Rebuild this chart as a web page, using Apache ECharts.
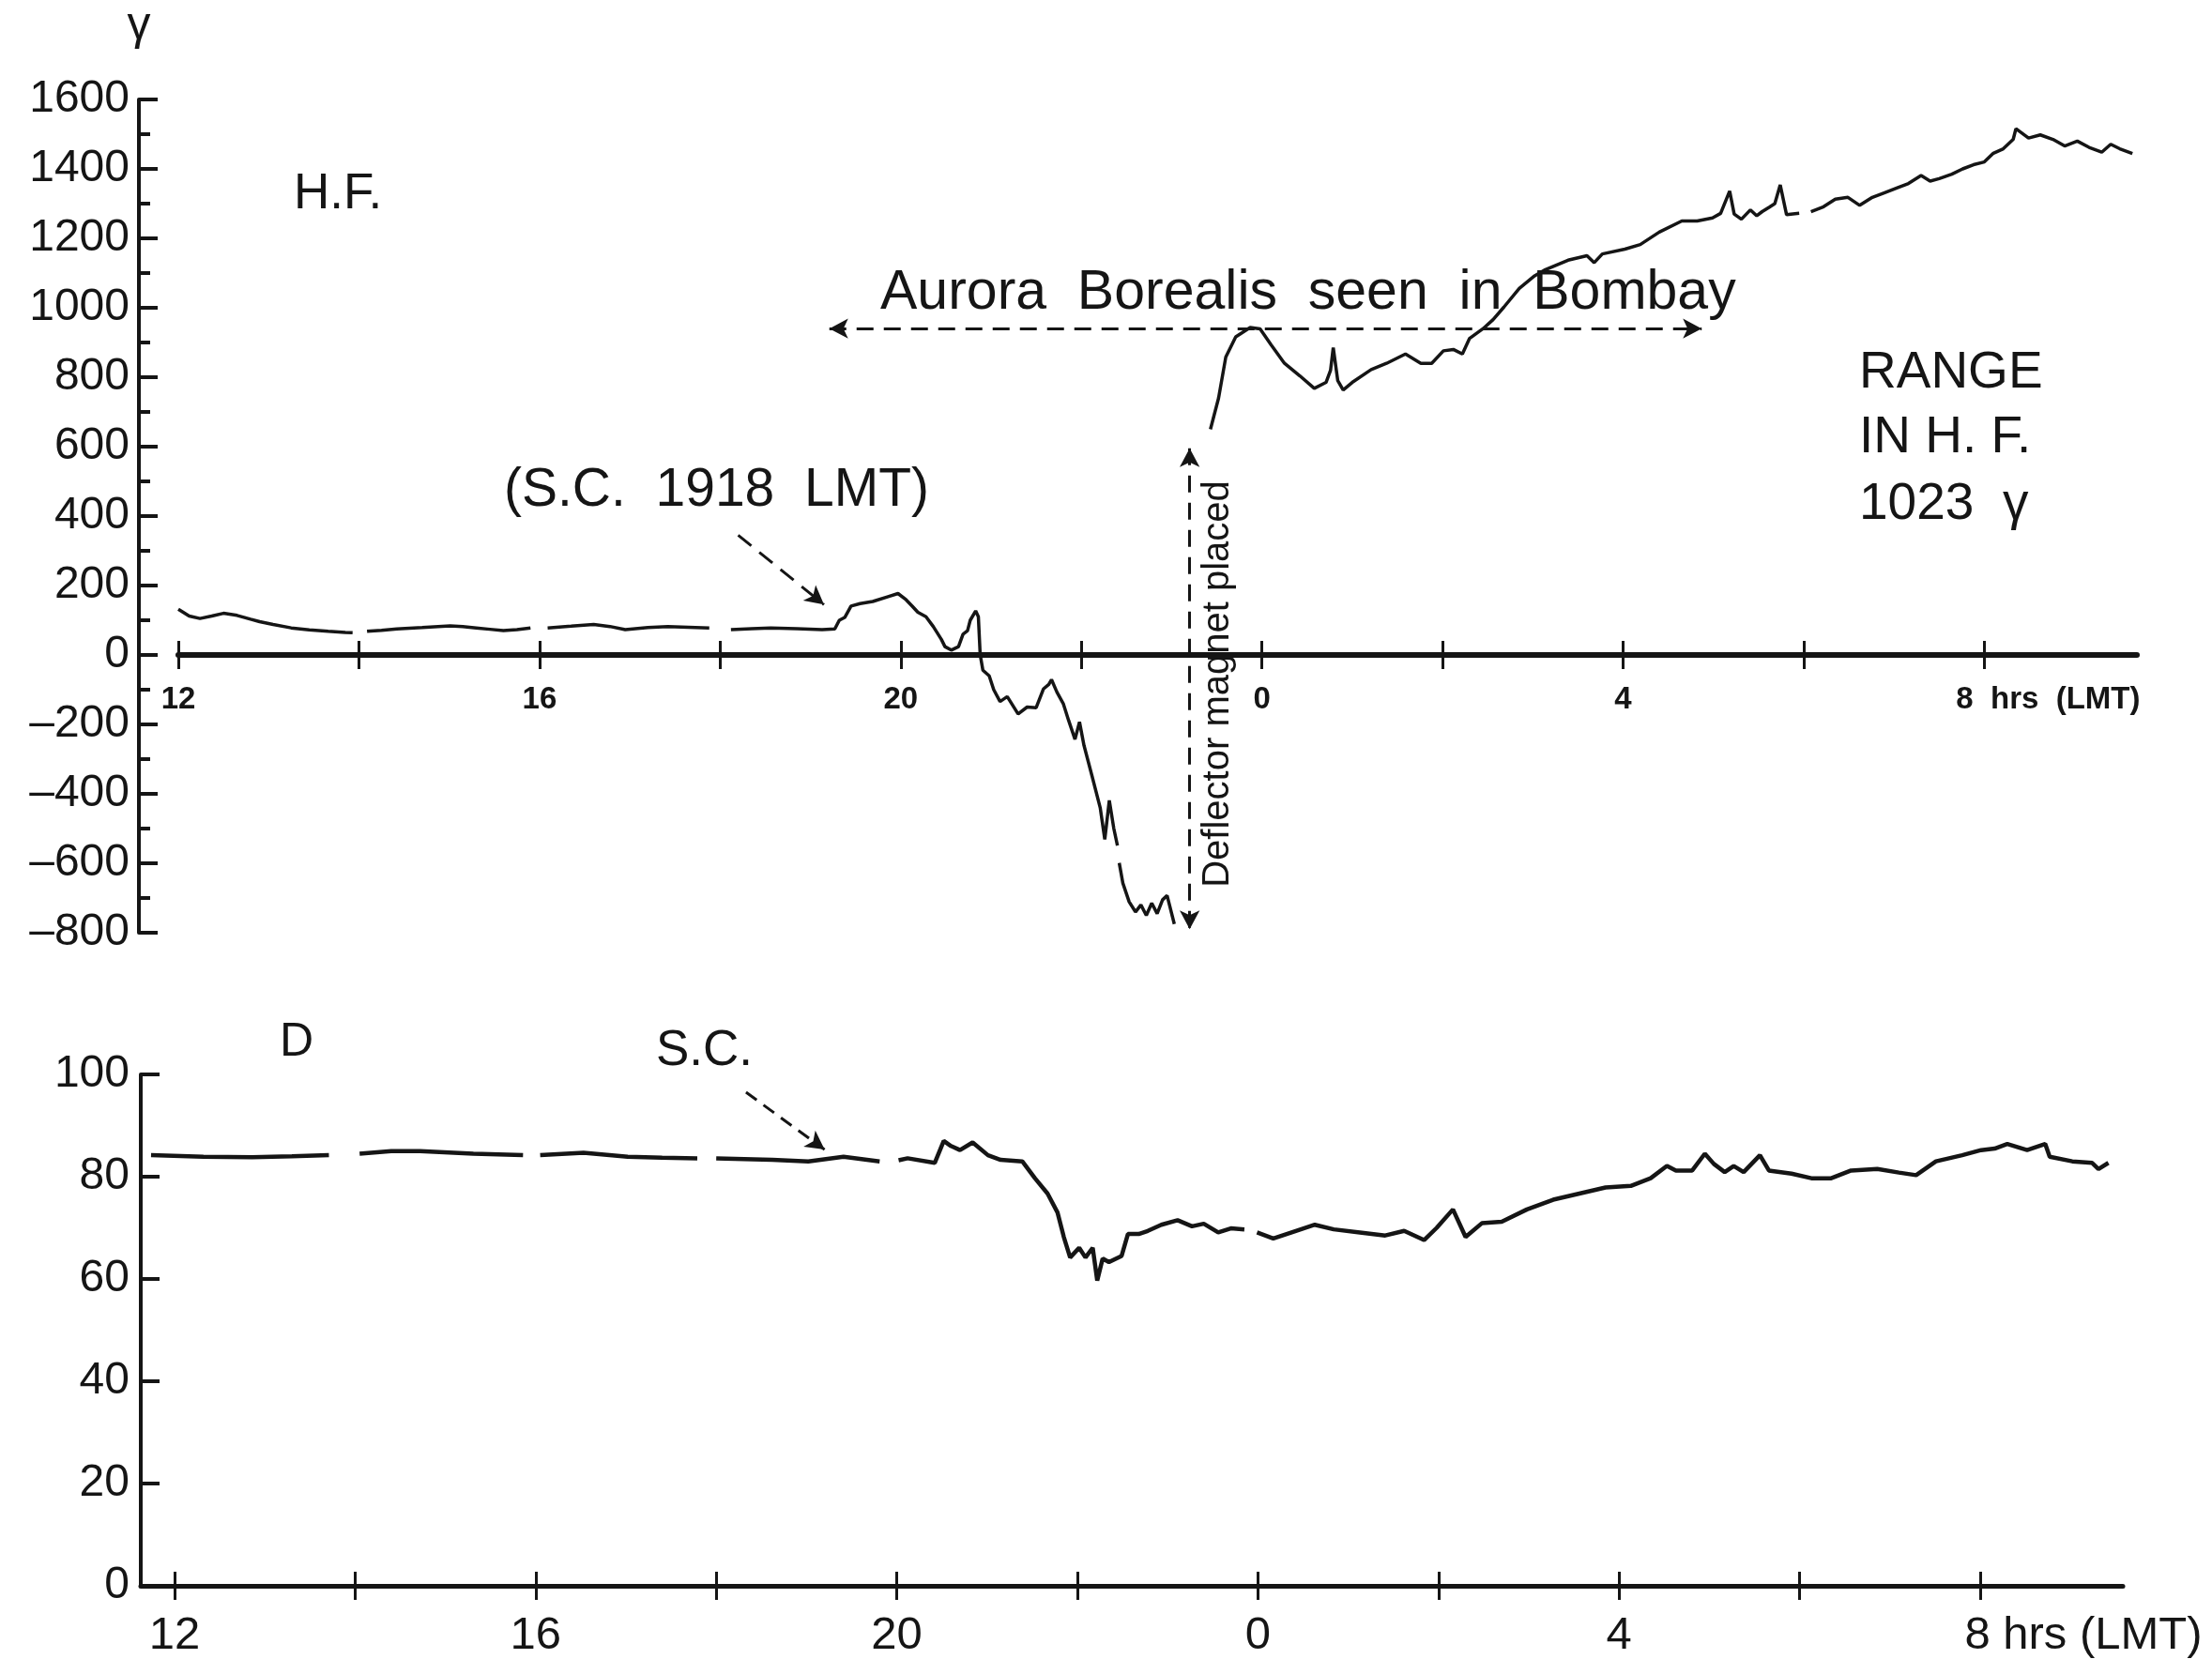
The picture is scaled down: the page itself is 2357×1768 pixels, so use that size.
<!DOCTYPE html>
<html><head><meta charset="utf-8">
<script src="https://cdn.jsdelivr.net/npm/echarts@6/dist/echarts.min.js"></script>
<style>html,body{margin:0;padding:0;background:#fff}#c{width:2357px;height:1768px}</style>
</head><body><div id="c"></div>
<script>
// Horizontal force (H.F.), gamma; hours counted continuously (24 = 0 h, 32 = 8 h LMT)
const hfHours = [12.00,12.12,12.24,12.37,12.50,12.65,12.80,12.90,13.05,13.25,13.45,13.66,13.85,13.93,13.99,
 14.09,14.25,14.42,14.70,15.01,15.15,15.30,15.45,15.60,15.75,15.90,15.99,
 16.09,16.35,16.60,16.78,16.95,17.20,17.42,17.65,17.88,17.99,
 18.12,18.35,18.56,18.85,19.13,19.27,19.32,19.38,19.45,19.55,19.69,19.86,19.97,20.06,20.13,20.19,20.28,20.36,20.45,20.49,20.56,20.64,20.69,20.74,20.77,20.83,20.86,20.88,20.91,20.98,
 21.03,21.10,21.18,21.30,21.40,21.50,21.58,21.64,21.67,21.73,21.80,21.86,21.93,21.98,
 22.03,22.12,22.21,22.26,22.31,22.36,22.40,22.41,22.42,22.46,22.53,22.60,22.66,22.72,22.78,22.84,22.90,22.95,23.03,23.20,
 23.43,23.52,23.60,23.71,23.87,23.98,24.10,24.25,24.42,24.58,24.71,24.76,24.79,24.84,24.90,25.00,25.21,25.38,25.59,25.76,25.88,
 26.01,26.12,26.22,26.30,26.45,26.56,26.68,26.85,27.02,27.14,27.39,27.60,27.68,27.77,
 28.02,28.19,28.40,28.65,28.82,28.99,29.08,29.18,29.23,29.31,29.41,29.48,29.54,29.62,29.68,29.74,29.81,29.95,30.01,
 30.08,30.22,30.35,30.49,30.62,30.76,30.89,31.03,31.16,31.30,31.40,31.50,31.64,31.76,31.88,
 32.00,32.10,32.21,32.32,32.35,32.49,32.62,32.76,32.89,33.03,33.16,33.30,33.40,33.50,33.64];
const hfValues = [132,112,105,112,120,114,103,96,88,78,72,68,65,64,null,
 68,71,75,79,84,82,78,74,70,73,78,null,
 78,83,88,82,73,79,82,80,78,null,
 73,76,78,76,73,75,100,108,141,148,154,168,177,159,140,123,110,82,45,24,14,24,60,70,100,127,110,1,-44,-60,
 -100,-134,-120,-170,-150,-152,-98,-85,-71,-107,-140,-189,-243,-193,
 -261,-350,-441,-531,-419,-500,-549,null,-599,-657,-711,-740,-720,-750,-715,-745,-705,-693,-775,null,
 650,740,858,916,943,939,894,840,804,768,785,820,885,790,763,785,822,840,867,840,840,
 876,880,867,912,940,966,1002,1056,1092,1110,1137,1150,1130,1155,
 1169,1182,1218,1250,1250,1259,1272,1336,1270,1255,1282,1265,1277,1290,1300,1354,1268,1272,null,
 1277,1291,1313,1318,1295,1318,1331,1345,1358,1381,1365,1372,1385,1400,1412,
 1420,1445,1458,1485,1516,1489,1498,1485,1466,1480,1462,1448,1471,1458,1444];

// Declination (D)
const dHours = [11.74,12.32,12.86,13.30,13.71,13.80,14.05,14.40,14.72,15.31,15.86,15.95,16.05,16.53,17.02,17.40,17.79,17.90,
 18.00,18.62,19.02,19.41,19.81,19.90,20.02,20.12,20.42,20.52,20.60,20.70,20.84,21.01,21.15,21.39,21.53,21.67,21.78,21.85,21.92,
 22.02,22.09,22.17,22.22,22.28,22.35,22.49,22.56,22.68,22.78,22.93,23.11,23.27,23.40,23.56,23.70,23.85,23.92,
 23.99,24.17,24.42,24.63,24.84,25.13,25.41,25.62,25.84,25.98,26.16,26.30,26.48,26.70,26.98,27.27,27.56,27.85,
 28.13,28.35,28.53,28.63,28.81,28.95,29.05,29.17,29.27,29.38,29.56,29.66,29.91,30.13,30.35,30.57,30.86,31.10,31.29,31.51,31.80,
 32.01,32.16,32.30,32.52,32.72,32.77,33.02,33.24,33.31,33.42];
const dValues = [84.2,83.9,83.8,84.0,84.2,null,84.5,85.0,85.0,84.5,84.2,null,84.2,84.7,83.9,83.7,83.6,null,
 83.6,83.3,83.0,83.9,83.0,null,83.2,83.6,82.7,87.0,86.0,85.2,86.7,84.2,83.3,83.0,79.7,76.7,73.0,68.2,64.2,
 66.1,64.2,66.1,59.7,64.0,63.3,64.5,68.8,68.8,69.4,70.6,71.5,70.3,70.8,69.1,69.9,69.7,null,
 69.1,67.9,69.4,70.6,69.7,69.1,68.5,69.4,67.6,70.0,73.6,68.2,70.9,71.2,73.6,75.5,76.7,77.9,
 78.2,79.7,82.1,81.2,81.2,84.5,82.5,80.9,82.1,80.9,84.2,81.2,80.6,79.7,79.7,81.2,81.5,80.8,80.3,83.0,84.2,
 85.2,85.5,86.4,85.2,86.4,83.9,83.0,82.7,81.5,82.7];

// Axis ticks and labels
const tickHours = [12,14,16,18,20,22,24,26,28,30,32];
const labelHours = [12,16,20,24,28,32];
const labelTexts = ['12','16','20','0','4','8  hrs  (LMT)'];
const labelTextsD = ['12','16','20','0','4','8 hrs (LMT)'];

// Annotations (data coordinates)
const auroraArrow = [[19.21, 940], [28.87, 940]];
const deflectorArrow = [[23.20, 595], [23.20, -790]];
const scArrowHF = [[18.2, 345], [19.15, 145]];
const scArrowD = [[18.33, 96.5], [19.2, 85.3]];

const FONT = '"Liberation Sans", Arial, sans-serif';
const INK = '#151515';

function zip(a, b) { return a.map((h, i) => [h, b[i]]); }
function makeXLabel(texts) {
  return function (v) {
    const i = labelHours.indexOf(Math.round(v));
    if (i < 0) return '';
    return i === texts.length - 1 ? '{last|' + texts[i] + '}' : texts[i];
  };
}
function yLabel(v) { return v < 0 ? '\u2013' + Math.abs(v) : String(v); }
function arrowLine(pts, startSym, endSym) {
  return [{coord: pts[0], symbol: startSym}, {coord: pts[1], symbol: endSym}];
}

// top grid: y from -800 (bottom) to 1600 (top); zero line sits 296 px above grid bottom
const TOP_ZERO_OFFSET = -296;

const chart = echarts.init(document.getElementById('c'), null, {renderer: 'canvas'});
chart.setOption({
  animation: false,
  backgroundColor: '#ffffff',
  grid: [
    {left: 190, right: 80, top: 106, bottom: 774},
    {left: 150, right: 95, top: 1145, bottom: 73}
  ],
  xAxis: [
    {gridIndex: 0, type: 'value', min: 12, max: 33.69, position: 'bottom', offset: TOP_ZERO_OFFSET,
     axisLine: {onZero: false, lineStyle: {color: INK, width: 6}},
     axisTick: {customValues: tickHours, inside: true, length: 15, lineStyle: {color: INK, width: 3}},
     axisLabel: {customValues: labelHours, formatter: makeXLabel(labelTexts), margin: 31, color: INK,
       fontFamily: FONT, fontWeight: 'bold', fontSize: 33,
       rich: {last: {fontFamily: FONT, fontWeight: 'bold', fontSize: 33, color: INK, padding: [0, 0, 0, 136]}}},
     splitLine: {show: false}},
    {gridIndex: 0, type: 'value', min: 12, max: 33.69, position: 'bottom', offset: TOP_ZERO_OFFSET,
     axisLine: {show: false, onZero: false},
     axisTick: {customValues: tickHours, inside: false, length: 15, lineStyle: {color: INK, width: 3}},
     axisLabel: {show: false}, splitLine: {show: false}},
    {gridIndex: 1, type: 'value', min: 11.626, max: 33.58, position: 'bottom',
     axisLine: {onZero: false, lineStyle: {color: INK, width: 5}},
     axisTick: {customValues: tickHours, inside: true, length: 15, lineStyle: {color: INK, width: 3}},
     axisLabel: {customValues: labelHours, formatter: makeXLabel(labelTextsD), margin: 29, color: INK,
       fontFamily: FONT, fontSize: 49,
       rich: {last: {fontFamily: FONT, fontSize: 49, color: INK, padding: [0, 0, 0, 220]}}},
     splitLine: {show: false}},
    {gridIndex: 1, type: 'value', min: 11.626, max: 33.58, position: 'bottom',
     axisLine: {show: false, onZero: false},
     axisTick: {customValues: tickHours, inside: false, length: 15, lineStyle: {color: INK, width: 3}},
     axisLabel: {show: false}, splitLine: {show: false}}
  ],
  yAxis: [
    {gridIndex: 0, type: 'value', min: -800, max: 1600, interval: 200, offset: 42,
     name: '\u03b3', nameLocation: 'end', nameGap: 78,
     nameTextStyle: {fontFamily: FONT, fontSize: 50, color: INK, verticalAlign: 'middle', align: 'center'},
     axisLine: {show: true, onZero: false, lineStyle: {color: INK, width: 4}},
     axisTick: {show: true, inside: true, length: 20, lineStyle: {color: INK, width: 4}},
     minorTick: {show: true, splitNumber: 2, length: 12, lineStyle: {color: INK, width: 4}},
     axisLabel: {formatter: yLabel, margin: 10, color: INK, fontFamily: FONT, fontSize: 48},
     splitLine: {show: false}},
    {gridIndex: 1, type: 'value', min: 0, max: 100, interval: 20,
     axisLine: {show: true, onZero: false, lineStyle: {color: INK, width: 4}},
     axisTick: {show: true, inside: true, length: 20, lineStyle: {color: INK, width: 4}},
     axisLabel: {margin: 12, color: INK, fontFamily: FONT, fontSize: 48},
     splitLine: {show: false}}
  ],
  series: [
    {type: 'line', name: 'H.F.', xAxisIndex: 0, yAxisIndex: 0, data: zip(hfHours, hfValues),
     showSymbol: false, connectNulls: false, lineStyle: {color: INK, width: 3.5}, silent: true,
     markLine: {silent: true, animation: false, symbolSize: [16, 20], label: {show: false},
       lineStyle: {color: INK, width: 3, type: [18, 11]},
       data: [arrowLine(auroraArrow, 'arrow', 'arrow'),
              arrowLine(deflectorArrow, 'arrow', 'arrow'),
              arrowLine(scArrowHF, 'none', 'arrow')]}},
    {type: 'line', name: 'D', xAxisIndex: 2, yAxisIndex: 1, data: zip(dHours, dValues),
     showSymbol: false, connectNulls: false, lineStyle: {color: INK, width: 4.5}, silent: true,
     markLine: {silent: true, animation: false, symbolSize: [16, 20], label: {show: false},
       lineStyle: {color: INK, width: 3, type: [14, 9]},
       data: [arrowLine(scArrowD, 'none', 'arrow')]}}
  ],
  graphic: [
    {type: 'text', x: 313, y: 207, style: {text: 'H.F.', font: '53px ' + FONT, fill: INK, textAlign: 'left', textVerticalAlign: 'middle'}},
    {type: 'text', x: 537, y: 523, style: {text: '(S.C.  1918  LMT)', font: '57px ' + FONT, fill: INK, textAlign: 'left', textVerticalAlign: 'middle'}},
    {type: 'text', x: 938, y: 313, style: {text: 'Aurora  Borealis  seen  in  Bombay', font: '59px ' + FONT, fill: INK, textAlign: 'left', textVerticalAlign: 'middle'}},
    {type: 'text', x: 1981, y: 398, style: {text: 'RANGE', font: '55px ' + FONT, fill: INK, textAlign: 'left', textVerticalAlign: 'middle'}},
    {type: 'text', x: 1981, y: 467, style: {text: 'IN H. F.', font: '55px ' + FONT, fill: INK, textAlign: 'left', textVerticalAlign: 'middle'}},
    {type: 'text', x: 1981, y: 538, style: {text: '1023  \u03b3', font: '55px ' + FONT, fill: INK, textAlign: 'left', textVerticalAlign: 'middle'}},
    {type: 'text', x: 1298, y: 729, rotation: Math.PI / 2, style: {text: 'Deflector magnet placed', font: '40px ' + FONT, fill: INK, textAlign: 'center', textVerticalAlign: 'middle'}},
    {type: 'text', x: 298, y: 1111, style: {text: 'D', font: '50px ' + FONT, fill: INK, textAlign: 'left', textVerticalAlign: 'middle'}},
    {type: 'text', x: 699, y: 1120, style: {text: 'S.C.', font: '53px ' + FONT, fill: INK, textAlign: 'left', textVerticalAlign: 'middle'}}
  ]
});
</script>
</body></html>
